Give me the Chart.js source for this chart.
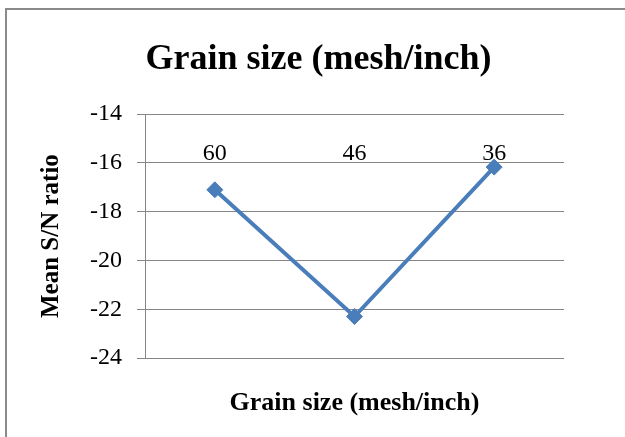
<!DOCTYPE html>
<html>
<head>
<meta charset="utf-8">
<script src="https://cdn.jsdelivr.net/npm/chart.js@4"></script>
<style>
  html, body { margin: 0; padding: 0; background: #fff; }
  #wrap { width: 625px; height: 437px; }
</style>
</head>
<body>
<div id="wrap"><canvas id="myChart" width="625" height="437"></canvas></div>
<script>
const categories = ['60', '46', '36'];
const meanSN = [-17.1, -22.3, -16.17];
const yTicks = { min: -24, max: -14, step: 2 };

const frame = {
  id: 'frame',
  beforeDraw(chart) {
    const c = chart.ctx;
    c.save();
    c.fillStyle = '#fff';
    c.fillRect(0, 0, chart.width, chart.height);
    c.strokeStyle = '#8a8a8a';
    c.lineWidth = 2;
    c.strokeRect(6, 9, 700, 500);
    c.restore();
  }
};

const ctx = document.getElementById('myChart');
const myChart = new Chart(ctx, {
  type: 'line',
  data: {
    labels: categories,
    datasets: [{
      label: 'Grain size (mesh/inch)',
      data: meanSN,
      borderColor: '#4a7ebb',
      backgroundColor: '#4a7ebb',
      borderWidth: 4,
      pointStyle: 'rectRot',
      pointRadius: 8,
      pointBorderWidth: 1,
      tension: 0
    }]
  },
  options: {
    responsive: false,
    animation: false,
    layout: { padding: { left: 12, right: 0, top: 0, bottom: 0 } },
    plugins: {
      legend: { display: false },
      tooltip: { enabled: false },
      title: {
        display: true,
        text: 'Grain size (mesh/inch)',
        color: '#000',
        font: { family: 'Liberation Serif', size: 36, weight: 'bold' },
        padding: { top: 38, bottom: 33 }
      }
    },
    scales: {
      x: {
        offset: true,
        grid: { display: false },
        border: { display: false },
        ticks: { display: false },
        title: {
          display: true,
          text: 'Grain size (mesh/inch)',
          color: '#000',
          font: { family: 'Liberation Serif', size: 26, weight: 'bold' },
          padding: { top: 0, bottom: 18 }
        },
        afterFit(s) { s.height = 79; }
      },
      x2: {
        type: 'category',
        labels: categories,
        offset: true,
        position: { y: -14 },
        grid: { display: false, drawTicks: false },
        border: { display: false },
        ticks: {
          color: '#000',
          padding: 25,
          font: { family: 'Liberation Serif', size: 24 }
        }
      },
      y: {
        min: yTicks.min,
        max: yTicks.max,
        grid: { color: '#868686', tickLength: 8 },
        border: { color: '#868686' },
        ticks: {
          stepSize: yTicks.step,
          color: '#000',
          padding: 15,
          font: { family: 'Liberation Serif', size: 24 }
        },
        title: {
          display: true,
          text: 'Mean S/N ratio',
          color: '#000',
          font: { family: 'Liberation Serif', size: 25, weight: 'bold' },
          padding: { top: 25, bottom: 0 }
        },
        afterFit(s) { s.width = 133; }
      },
      yr: {
        position: 'right',
        grid: { display: false },
        border: { display: false },
        ticks: { display: false },
        afterFit(s) { s.width = 61; }
      }
    }
  },
  plugins: [frame]
});
</script>
</body>
</html>
